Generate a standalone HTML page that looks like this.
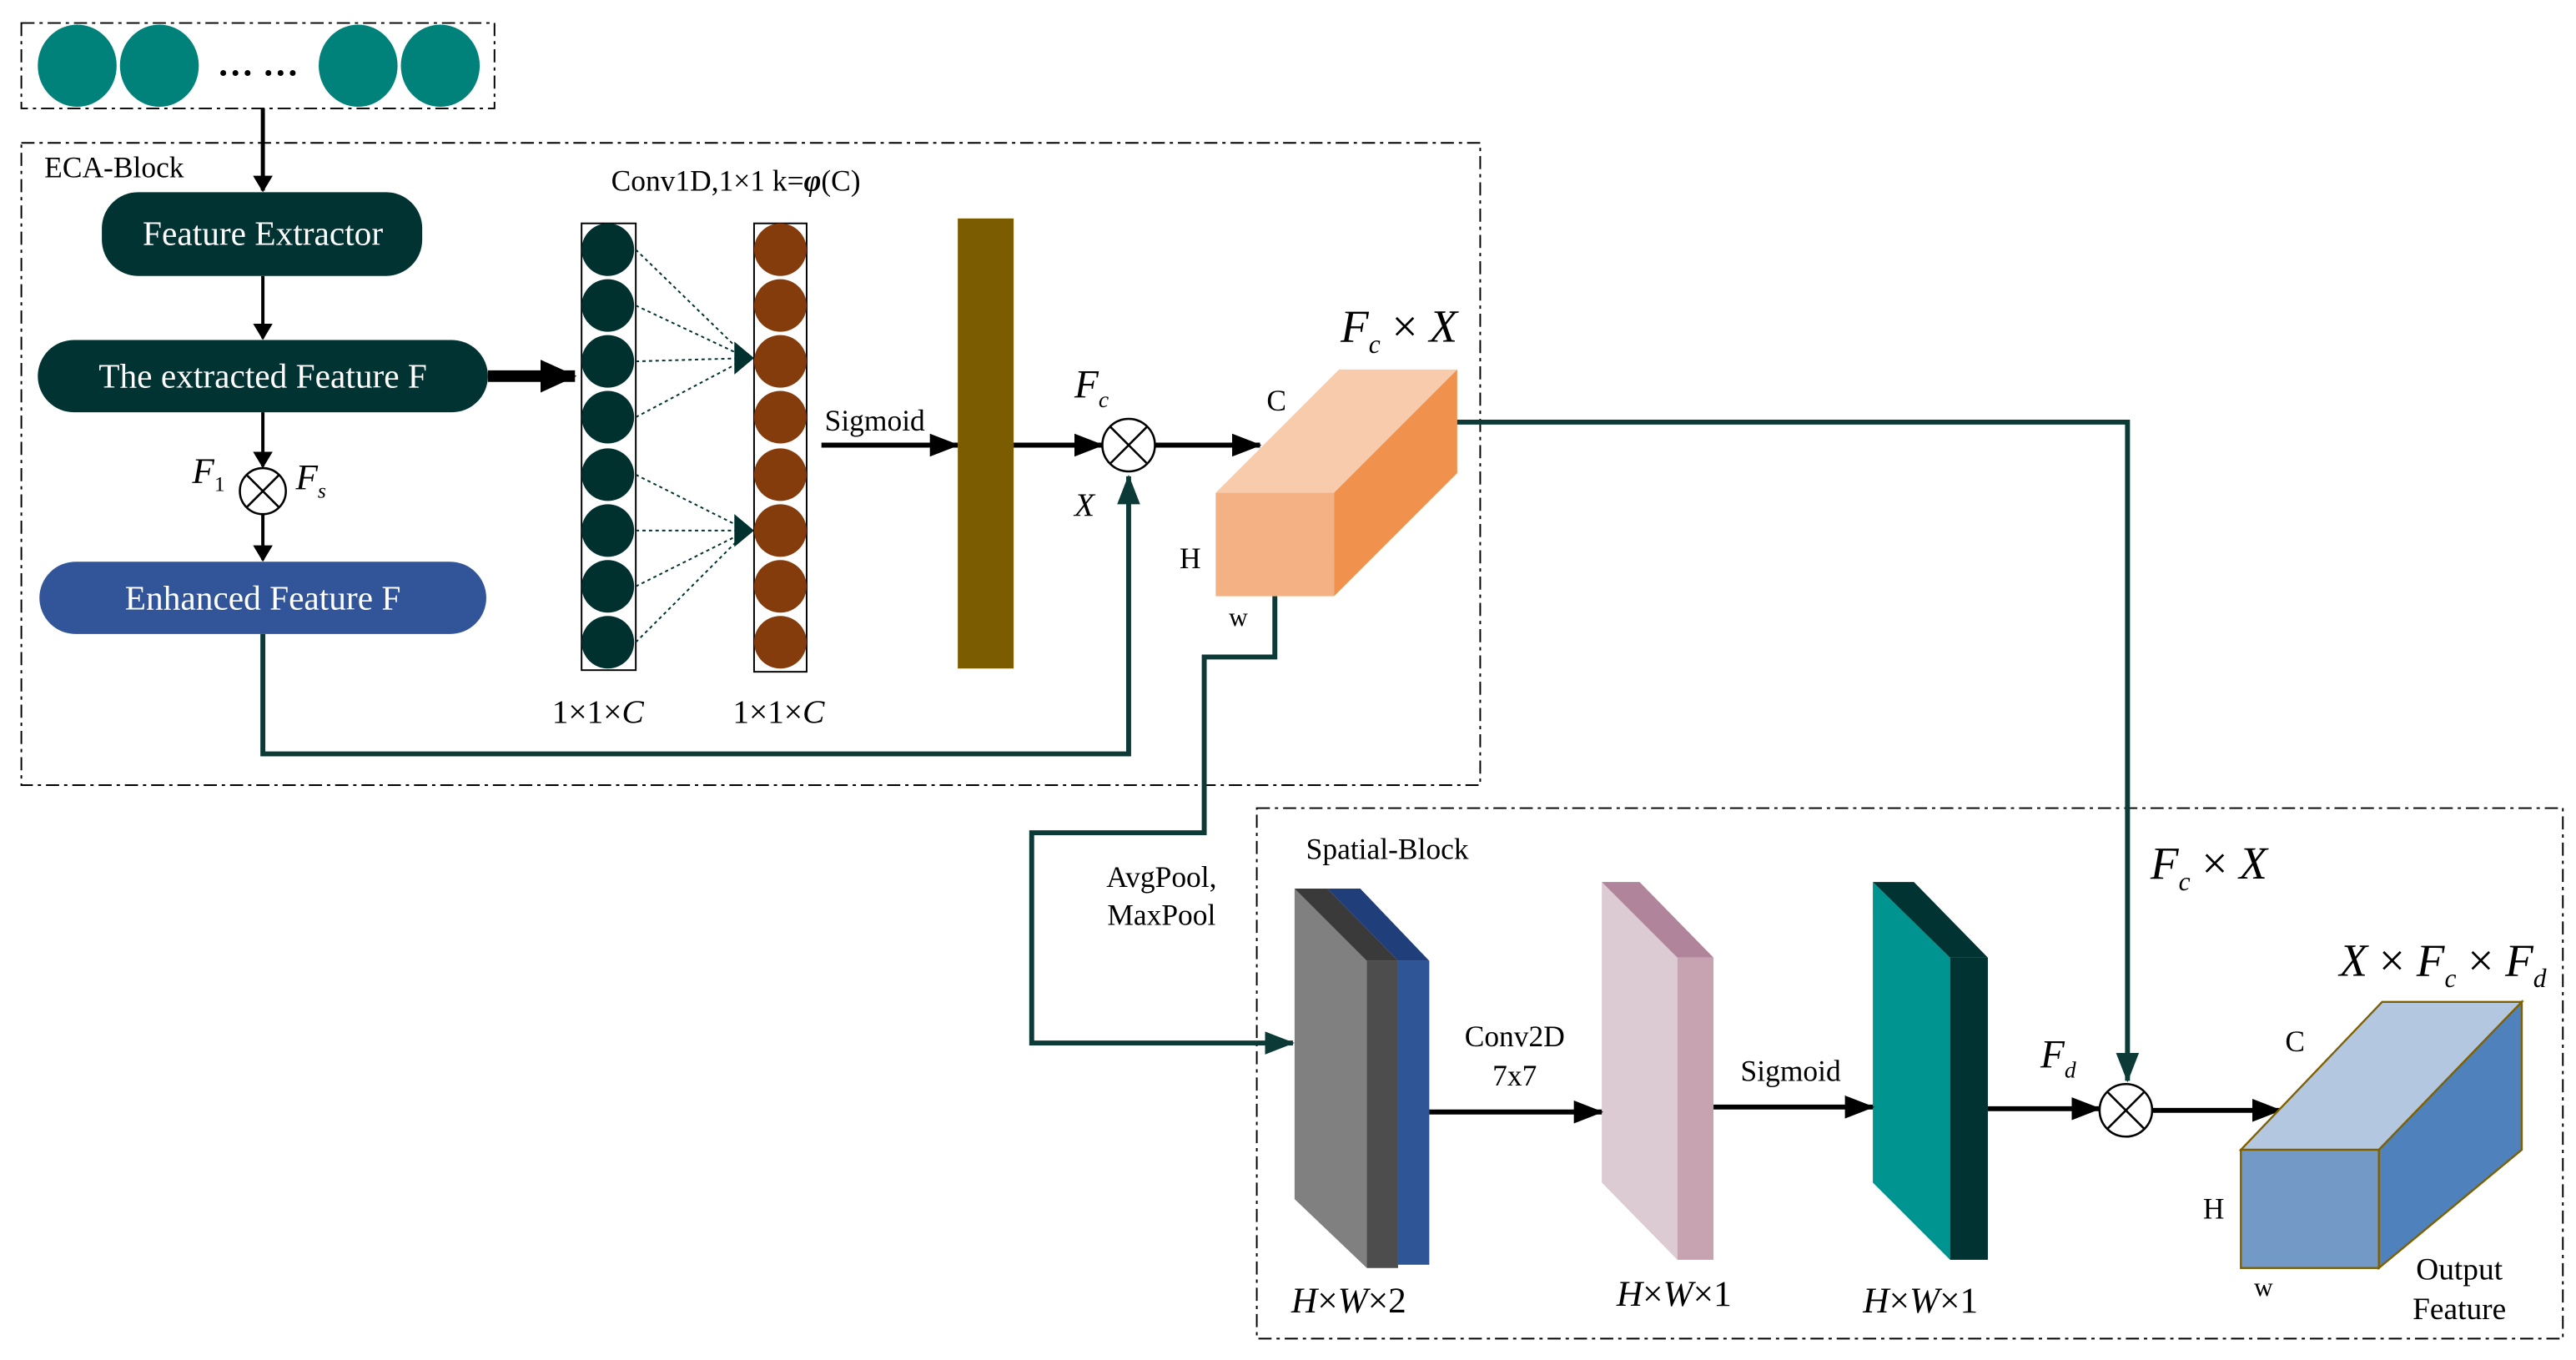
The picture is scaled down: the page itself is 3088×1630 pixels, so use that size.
<!DOCTYPE html>
<html><head><meta charset="utf-8"><style>
html,body{margin:0;padding:0;background:#fff;}
svg{display:block;}
text{font-family:"Liberation Serif",serif;fill:#000;}
.i{font-style:italic;}
</style></head><body>
<svg width="3088" height="1630" viewBox="0 0 1568 828" preserveAspectRatio="none" xmlns="http://www.w3.org/2000/svg">
<defs>
<marker id="ab" markerWidth="10" markerHeight="12" refX="9" refY="6" orient="auto" markerUnits="userSpaceOnUse"><path d="M0,0 L10,6 L0,12 z" fill="#000"/></marker>
<marker id="abig" markerWidth="18" markerHeight="14" refX="17" refY="7" orient="auto" markerUnits="userSpaceOnUse"><path d="M0,0 L18,7 L0,14 z" fill="#000"/></marker>
<marker id="ahuge" markerWidth="22" markerHeight="20" refX="21" refY="10" orient="auto" markerUnits="userSpaceOnUse"><path d="M0,0 L22,10 L0,20 z" fill="#000"/></marker>
<marker id="ag" markerWidth="18" markerHeight="14" refX="17" refY="7" orient="auto" markerUnits="userSpaceOnUse"><path d="M0,0 L18,7 L0,14 z" fill="#0b3a37"/></marker>
</defs>
<g fill="none" stroke="#000" stroke-width="1" stroke-dasharray="8,3,2,3">
<rect x="13" y="14" width="288" height="52"/>
<rect x="13" y="87" width="888" height="391"/>
<rect x="765" y="492" width="795" height="323"/>
</g>
<g fill="#00827a">
<ellipse cx="47" cy="40" rx="24" ry="25"/><ellipse cx="97" cy="40" rx="24" ry="25"/>
<ellipse cx="218" cy="40" rx="24" ry="25"/><ellipse cx="268" cy="40" rx="24" ry="25"/>
</g>
<text x="157" y="46" font-size="22" text-anchor="middle" font-weight="bold">… …</text>
<text x="27" y="108" font-size="18">ECA-Block</text>
<g stroke="#000" stroke-width="2" fill="none">
<line x1="160" y1="66" x2="160" y2="116" marker-end="url(#ab)" stroke-width="2.5"/>
<line x1="160" y1="168" x2="160" y2="206" marker-end="url(#ab)"/>
<line x1="160" y1="251" x2="160" y2="284" marker-end="url(#ab)"/>
<line x1="160" y1="313" x2="160" y2="341" marker-end="url(#ab)"/>
</g>
<line x1="297" y1="229" x2="350" y2="229" stroke="#000" stroke-width="7" marker-end="url(#ahuge)"/>
<rect x="62" y="117" width="195" height="51" rx="22" fill="#003331"/>
<text x="160" y="149" font-size="21" text-anchor="middle" style="fill:#fff">Feature Extractor</text>
<rect x="23" y="207" width="274" height="44" rx="22" fill="#003331"/>
<text x="160" y="236" font-size="21" text-anchor="middle" style="fill:#fff">The extracted Feature F</text>
<rect x="24" y="342" width="272" height="44" rx="22" fill="#32559a"/>
<text x="160" y="371" font-size="21" text-anchor="middle" style="fill:#fff">Enhanced Feature F</text>
<g stroke="#000" stroke-width="1.3" fill="#fff">
<circle cx="160" cy="299" r="14"/><line x1="150" y1="289" x2="170" y2="309"/><line x1="170" y1="289" x2="150" y2="309"/>
</g>
<text x="117" y="294" font-size="22" class="i">F<tspan font-size="13" dy="5" font-style="normal">1</tspan></text>
<text x="180" y="298" font-size="22" class="i">F<tspan font-size="13" dy="5">s</tspan></text>
<polyline points="160,386 160,459 687,459 687,290" fill="none" stroke="#0b3a37" stroke-width="3" marker-end="url(#ag)"/>
<rect x="354" y="136" width="33" height="272" fill="#fff" stroke="#000"/>
<rect x="459" y="136" width="32" height="273" fill="#fff" stroke="#000"/>
<g fill="#00312f">
<circle cx="370" cy="152" r="16"/><circle cx="370" cy="186" r="16"/><circle cx="370" cy="220" r="16"/><circle cx="370" cy="254" r="16"/>
<circle cx="370" cy="289" r="16"/><circle cx="370" cy="323" r="16"/><circle cx="370" cy="357" r="16"/><circle cx="370" cy="391" r="16"/>
</g>
<g fill="#843c0c">
<circle cx="475" cy="152" r="16"/><circle cx="475" cy="186" r="16"/><circle cx="475" cy="220" r="16"/><circle cx="475" cy="254" r="16"/>
<circle cx="475" cy="289" r="16"/><circle cx="475" cy="323" r="16"/><circle cx="475" cy="357" r="16"/><circle cx="475" cy="391" r="16"/>
</g>
<g stroke="#00312f" stroke-width="1" stroke-dasharray="2,2" fill="none">
<line x1="387" y1="152" x2="455" y2="218"/><line x1="387" y1="186" x2="455" y2="218"/><line x1="387" y1="220" x2="455" y2="218"/><line x1="387" y1="254" x2="455" y2="218"/>
<line x1="387" y1="289" x2="455" y2="323"/><line x1="387" y1="323" x2="455" y2="323"/><line x1="387" y1="357" x2="455" y2="323"/><line x1="387" y1="391" x2="455" y2="323"/>
</g>
<path d="M447,208 L459,218 L447,228 z M447,313 L459,323 L447,333 z" fill="#00312f"/>
<text x="372" y="116" font-size="18">Conv1D,1×1 k=<tspan font-weight="bold" font-style="italic">φ</tspan>(C)</text>
<text x="336" y="440" font-size="20">1×1×<tspan class="i">C</tspan></text>
<text x="446" y="440" font-size="20">1×1×<tspan class="i">C</tspan></text>
<line x1="500" y1="271" x2="583" y2="271" stroke="#000" stroke-width="3" marker-end="url(#abig)"/>
<text x="502" y="262" font-size="18">Sigmoid</text>
<rect x="583" y="133" width="34" height="274" fill="#7b5c00"/>
<line x1="617" y1="271" x2="671" y2="271" stroke="#000" stroke-width="3" marker-end="url(#abig)"/>
<g stroke="#000" stroke-width="1.3" fill="#fff">
<circle cx="687" cy="271" r="16"/><line x1="676" y1="260" x2="698" y2="282"/><line x1="698" y1="260" x2="676" y2="282"/>
</g>
<text x="654" y="242" font-size="24" class="i">F<tspan font-size="14" dy="6">c</tspan></text>
<text x="654" y="314" font-size="20" class="i">X</text>
<line x1="703" y1="271" x2="767" y2="271" stroke="#000" stroke-width="3" marker-end="url(#abig)"/>
<polygon points="740,300 812,300 887,225 815,225" fill="#f8cbad"/>
<polygon points="812,300 887,225 887,288 812,363" fill="#f0914e"/>
<rect x="740" y="300" width="72" height="63" fill="#f4b183"/>
<text x="771" y="250" font-size="18">C</text>
<text x="718" y="346" font-size="18">H</text>
<text x="748" y="381" font-size="16">w</text>
<text x="816" y="208" font-size="28" class="i">F<tspan font-size="16" dy="7">c</tspan><tspan dy="-7" font-style="normal"> × </tspan>X</text>
<polyline points="887,257 1295,257 1295,658" fill="none" stroke="#0b3a37" stroke-width="3" marker-end="url(#ag)"/>
<polyline points="776,363 776,400 733,400 733,507 628,507 628,635 787,635" fill="none" stroke="#0b3a37" stroke-width="3" marker-end="url(#ag)"/>
<text x="795" y="523" font-size="18">Spatial-Block</text>
<text x="707" y="540" font-size="18" text-anchor="middle">AvgPool,</text>
<text x="707" y="563" font-size="18" text-anchor="middle">MaxPool</text>
<polygon points="788,541 832,585 832,772 788,730" fill="#808080"/>
<polygon points="788,541 808,541 851,585 832,585" fill="#3a3a3a"/>
<rect x="832" y="585" width="19" height="187" fill="#4d4d4d"/>
<polygon points="808,541 828,541 870,585 851,585" fill="#203f7a"/>
<rect x="851" y="585" width="19" height="185" fill="#2f5597"/>
<polygon points="975,537 1021,583 1021,767 975,720" fill="#ddcbd3"/>
<polygon points="975,537 998,537 1043,583 1021,583" fill="#b0849a"/>
<rect x="1021" y="583" width="22" height="184" fill="#c7a3b2"/>
<polygon points="1140,537 1187,583 1187,767 1140,720" fill="#009490"/>
<polygon points="1140,537 1165,537 1210,583 1187,583" fill="#003331"/>
<rect x="1187" y="583" width="23" height="184" fill="#003331"/>
<line x1="870" y1="677" x2="975" y2="677" stroke="#000" stroke-width="3" marker-end="url(#abig)"/>
<text x="922" y="637" font-size="18" text-anchor="middle">Conv2D</text>
<text x="922" y="661" font-size="18" text-anchor="middle">7x7</text>
<line x1="1043" y1="674" x2="1140" y2="674" stroke="#000" stroke-width="3" marker-end="url(#abig)"/>
<text x="1090" y="658" font-size="18" text-anchor="middle">Sigmoid</text>
<line x1="1210" y1="675" x2="1278" y2="675" stroke="#000" stroke-width="3" marker-end="url(#abig)"/>
<g stroke="#000" stroke-width="1.3" fill="#fff">
<circle cx="1294" cy="676" r="16"/><line x1="1283" y1="665" x2="1305" y2="687"/><line x1="1305" y1="665" x2="1283" y2="687"/>
</g>
<text x="1242" y="650" font-size="24" class="i">F<tspan font-size="14" dy="6">d</tspan></text>
<line x1="1310" y1="676" x2="1388" y2="676" stroke="#000" stroke-width="3" marker-end="url(#abig)"/>
<g stroke="#7f6000" stroke-width="1.2">
<polygon points="1364,700 1448,700 1535,610 1450,610" fill="#b4c7e1"/>
<polygon points="1448,700 1535,610 1535,700 1448,772" fill="#4f81bd"/>
<rect x="1364" y="700" width="84" height="72" fill="#7399c6"/>
</g>
<text x="1391" y="640" font-size="18">C</text>
<text x="1341" y="742" font-size="18">H</text>
<text x="1372" y="789" font-size="16">w</text>
<text x="1497" y="779" font-size="19" text-anchor="middle">Output</text>
<text x="1497" y="803" font-size="19" text-anchor="middle">Feature</text>
<text x="1309" y="535" font-size="28" class="i">F<tspan font-size="16" dy="7">c</tspan><tspan dy="-7" font-style="normal"> × </tspan>X</text>
<text x="1424" y="594" font-size="28" class="i">X<tspan font-style="normal"> × </tspan>F<tspan font-size="16" dy="7">c</tspan><tspan dy="-7" font-style="normal"> × </tspan>F<tspan font-size="16" dy="7">d</tspan></text>
<text x="786" y="799" font-size="22" class="i">H<tspan font-style="normal">×</tspan>W<tspan font-style="normal">×2</tspan></text>
<text x="984" y="795" font-size="22" class="i">H<tspan font-style="normal">×</tspan>W<tspan font-style="normal">×1</tspan></text>
<text x="1134" y="799" font-size="22" class="i">H<tspan font-style="normal">×</tspan>W<tspan font-style="normal">×1</tspan></text>
</svg>
</body></html>
